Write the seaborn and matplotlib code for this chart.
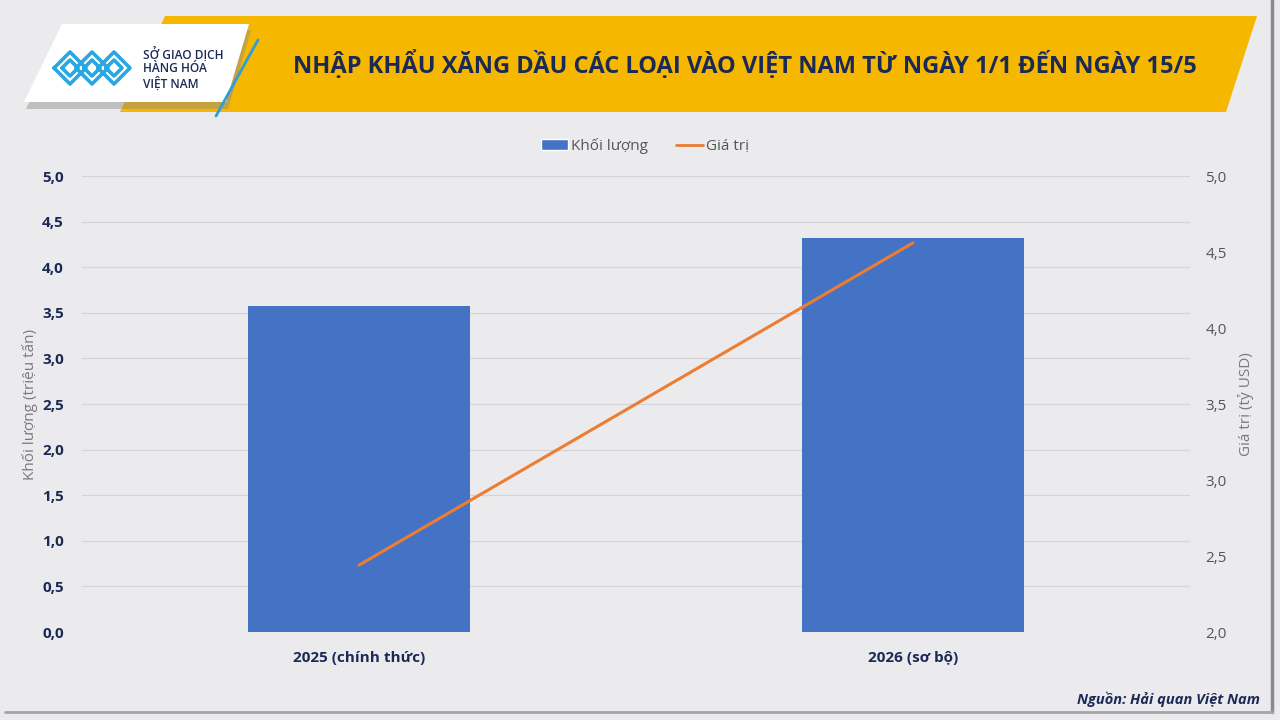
import numpy as np
import pandas as pd
import matplotlib
matplotlib.use('Agg')
import matplotlib.pyplot as plt
from matplotlib.patches import Polygon, Patch
from matplotlib.lines import Line2D
from matplotlib.ticker import FixedLocator, FuncFormatter
import seaborn as sns

# data
categories = ['2025 (chính thức)', '2026 (sơ bộ)']
khoi_luong = [3.57, 4.32]   # triệu tấn
gia_tri = [2.44, 4.56]      # tỷ USD

title = 'NHẬP KHẨU XĂNG DẦU CÁC LOẠI VÀO VIỆT NAM TỪ NGÀY 1/1 ĐẾN NGÀY 15/5'
source = 'Nguồn: Hải quan Việt Nam'

df = pd.DataFrame({'cat': categories, 'x': [0, 1], 'kl': khoi_luong, 'gt': gia_tri})

sns.set_theme(style='white')
plt.rcParams['font.family'] = ['Open Sans', 'DejaVu Sans']

navy = '#1b2a55'
blue = '#4472C4'
orange = '#ED7D31'
bg = '#EBEBEE'

W, H = 1280, 720
fig = plt.figure(figsize=(12.8, 7.2), dpi=100)
fig.patch.set_facecolor(bg)

def px(x, y):
    return (x / W, 1 - y / H)

# frame shadow on the right / bottom
fig.add_artist(Line2D([px(1272, 0)[0]] * 2, [px(0, 0)[1], px(0, 712)[1]], color='#8a8a8e', lw=2.5, transform=fig.transFigure))
fig.add_artist(Line2D([px(5, 0)[0], px(1272, 0)[0]], [px(0, 712)[1]] * 2, color='#a5a5a8', lw=2, transform=fig.transFigure))

# header banner
fig.add_artist(Polygon([px(165, 16), px(1257, 16), px(1226, 112), px(120, 112)], closed=True,
                       facecolor='#F6B700', edgecolor='none', transform=fig.transFigure))
fig.add_artist(Polygon([px(64, 30), px(251, 30), px(228, 109), px(26, 109)], closed=True,
                       facecolor='#8a8a8a', edgecolor='none', alpha=0.45, transform=fig.transFigure))
fig.add_artist(Polygon([px(62, 24), px(249, 24), px(226, 102), px(24, 102)], closed=True,
                       facecolor='white', edgecolor='none', transform=fig.transFigure))
fig.add_artist(Line2D([px(258, 40)[0], px(216, 116)[0]], [px(258, 40)[1], px(216, 116)[1]],
                      color='#2b9fd9', lw=2, transform=fig.transFigure))

# simple logo mark
logo_c = '#2AA7E0'
for cx in [70, 92, 114]:
    for r in [8, 16]:
        xs = [cx - r, cx, cx + r, cx, cx - r]
        ys = [68, 68 - r, 68, 68 + r, 68]
        fig.add_artist(Line2D([px(a, 0)[0] for a in xs], [px(0, b)[1] for b in ys],
                              color=logo_c, lw=2.6, transform=fig.transFigure))
for i, line in enumerate(['SỞ GIAO DỊCH', 'HÀNG HÓA', 'VIỆT NAM']):
    fig.text(*px(143, 54 + 15 * i), line, color=navy, fontsize=8.6, fontweight='semibold',
             va='center', ha='left')

fig.text(*px(745, 65), title, color=navy, fontsize=17, fontweight='bold', ha='center', va='center')

# chart
ax = fig.add_axes([82 / W, 1 - 632 / H, (1190 - 82) / W, (632 - 176) / H])
ax.set_facecolor('none')
sns.barplot(data=df, x='cat', y='kl', color=blue, width=0.4, saturation=1, linewidth=0,
            ax=ax, zorder=2)
ax.set_xlim(-0.5, 1.5)
ax.set_ylim(0, 5)
ax.yaxis.set_major_locator(FixedLocator(np.arange(0, 5.01, 0.5)))
ax.yaxis.set_major_formatter(FuncFormatter(lambda v, p: f'{v:.1f}'.replace('.', ',')))
ax.grid(axis='y', color='#d4d4d8', lw=0.9, zorder=0)
ax.set_axisbelow(True)
for s in ax.spines.values():
    s.set_visible(False)
ax.tick_params(axis='y', length=0, pad=13, labelsize=11, labelcolor=navy)
ax.tick_params(axis='x', length=0, pad=14, labelsize=11, labelcolor=navy)
for t in ax.get_yticklabels() + ax.get_xticklabels():
    t.set_fontweight('bold')
ax.set_xlabel('')
ax.set_ylabel('Khối lượng (triệu tấn)', color='#7a7a7a', fontsize=11, labelpad=3)

ax2 = ax.twinx()
sns.lineplot(data=df, x='x', y='gt', color=orange, lw=2.2, ax=ax2, zorder=3)
ax2.set_ylim(2, 5)
ax2.yaxis.set_major_locator(FixedLocator(np.arange(2, 5.01, 0.5)))
ax2.yaxis.set_major_formatter(FuncFormatter(lambda v, p: f'{v:.1f}'.replace('.', ',')))
for s in ax2.spines.values():
    s.set_visible(False)
ax2.tick_params(axis='y', length=0, pad=11, labelsize=11, labelcolor='#555555')
ax2.set_ylabel('Giá trị (tỷ USD)', color='#7a7a7a', fontsize=11, labelpad=8)
ax2.grid(False)
ax.set_xlim(-0.5, 1.5)

handles = [Patch(facecolor=blue, label='Khối lượng'), Line2D([], [], color=orange, lw=2, label='Giá trị')]
leg = fig.legend(handles=handles, loc='center', bbox_to_anchor=px(645, 146), ncol=2, frameon=False,
                 fontsize=11, handlelength=1.8, handletextpad=0.2, columnspacing=1.8)
for t in leg.get_texts():
    t.set_color('#555555')

fig.text(*px(1260, 699), source, color=navy, fontsize=10.5, fontweight='bold', style='italic', ha='right', va='center')

fig.savefig('out.png', dpi=100, facecolor=fig.get_facecolor())
